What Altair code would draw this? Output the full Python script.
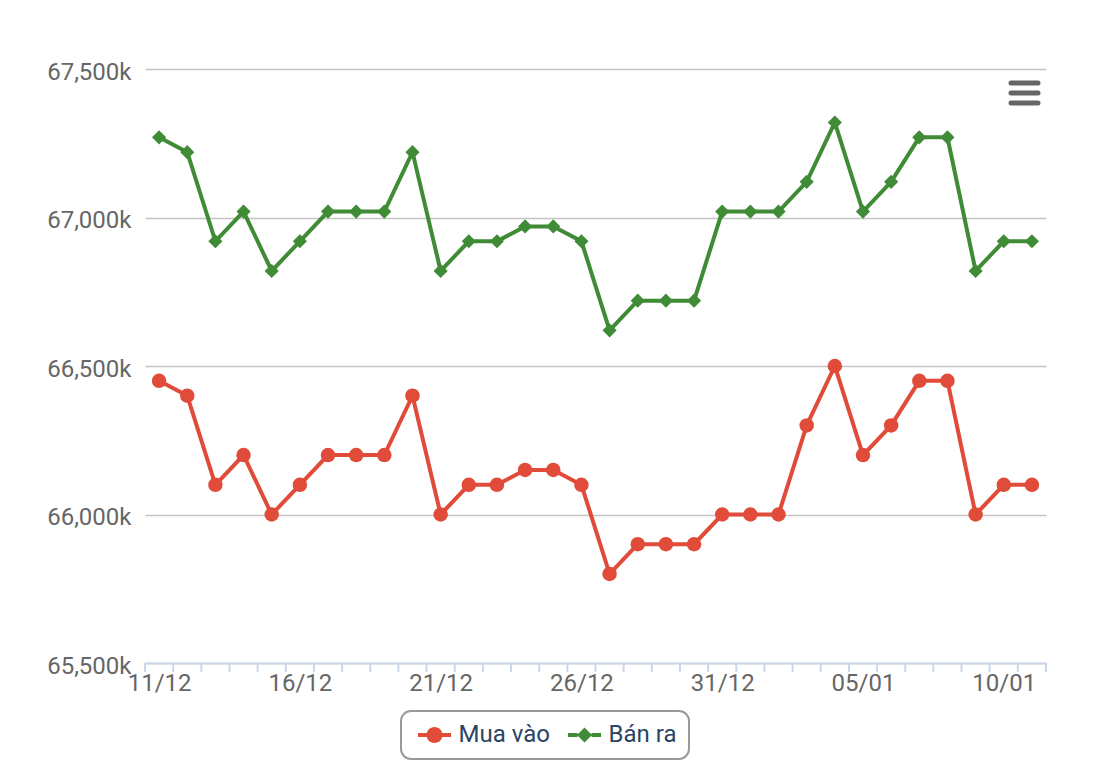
import altair as alt
import pandas as pd
import numpy as np

# ---- data ----
dates = ["11/12", "12/12", "13/12", "14/12", "15/12", "16/12", "17/12", "18/12",
         "19/12", "20/12", "21/12", "22/12", "23/12", "24/12", "25/12", "26/12",
         "27/12", "28/12", "29/12", "30/12", "31/12", "01/01", "02/01", "03/01",
         "04/01", "05/01", "06/01", "07/01", "08/01", "09/01", "10/01", "11/01"]
mua_vao = [66450, 66400, 66100, 66200, 66000, 66100, 66200, 66200,
           66200, 66400, 66000, 66100, 66100, 66150, 66150, 66100,
           65800, 65900, 65900, 65900, 66000, 66000, 66000, 66300,
           66500, 66200, 66300, 66450, 66450, 66000, 66100, 66100]
ban_ra = [67270, 67220, 66920, 67020, 66820, 66920, 67020, 67020,
          67020, 67220, 66820, 66920, 66920, 66970, 66970, 66920,
          66620, 66720, 66720, 66720, 67020, 67020, 67020, 67120,
          67320, 67020, 67120, 67270, 67270, 66820, 66920, 66920]
series_names = ["Mua vào", "Bán ra"]
series_colors = ["#e04b3a", "#3f8b36"]
series_shapes = ["circle", "diamond"]
y_ticks = [65500, 66000, 66500, 67000, 67500]
label_every = 5

n = len(dates)
rows = []
for name, vals in zip(series_names, [mua_vao, ban_ra]):
    for i, (d, v) in enumerate(zip(dates, vals)):
        rows.append({"i": i, "date": d, "series": name, "value": v})
df = pd.DataFrame(rows)

label_idx = list(range(0, n, label_every))
label_map = "{" + ",".join(f"'{i}':'{dates[i]}'" for i in label_idx) + "}"

W, H = 901, 594
FONT = "Roboto"

xscale = alt.Scale(domain=[-0.5, n - 0.5], nice=False, zero=False)
yscale = alt.Scale(domain=[y_ticks[0], y_ticks[-1]], nice=False, zero=False)

x_enc = alt.X("i:Q", scale=xscale,
              axis=alt.Axis(values=label_idx, labelExpr=f"{label_map}[''+datum.value]",
                            ticks=False, grid=False, domain=True, domainColor="#ccd6eb",
                            domainWidth=2, labelColor="#666666", labelFontSize=24,
                            labelFont=FONT, labelPadding=8, title=None))
y_enc = alt.Y("value:Q", scale=yscale,
              axis=alt.Axis(values=y_ticks, labelExpr="format(datum.value, ',') + 'k'",
                            ticks=False, domain=False, grid=True, gridColor="#c4c4c4",
                            gridWidth=1.5, labelColor="#666666", labelFontSize=24,
                            labelFont=FONT, labelPadding=14, labelOffset=3, title=None))

base = alt.Chart(df)

series_layers = []
for k, (name, col, shp) in enumerate(zip(series_names, series_colors, series_shapes)):
    sub = base.transform_filter(alt.datum.series == name)
    ln = sub.mark_line(strokeWidth=4, color=col).encode(
        x=x_enc if k == 0 else alt.X("i:Q"),
        y=y_enc if k == 0 else alt.Y("value:Q"))
    pt = sub.mark_point(filled=True, opacity=1, size=210 if shp == "circle" else 200,
                        shape=shp, color=col).encode(x="i:Q", y="value:Q")
    series_layers += [ln, pt]

# legend symbols: a short line with a marker in the middle (units of 10 px)
circle_path = ("M-1.65,-0.2 L-0.7,-0.2 L-0.7,0.2 L-1.65,0.2 Z "
               "M0.7,-0.2 L1.65,-0.2 L1.65,0.2 L0.7,0.2 Z "
               "M-0.8,0 A0.8,0.8 0 1,1 0.8,0 A0.8,0.8 0 1,1 -0.8,0 Z")
diamond_path = ("M-1.65,-0.2 L-0.7,-0.2 L-0.7,0.2 L-1.65,0.2 Z "
                "M0.7,-0.2 L1.65,-0.2 L1.65,0.2 L0.7,0.2 Z "
                "M-0.75,0 L0,-0.75 L0.75,0 L0,0.75 Z")

# legend-only layer (no marks drawn: its data is filtered out)
legend_layer = base.transform_filter("false").mark_point(filled=True, opacity=1).encode(
    x="i:Q", y="value:Q",
    fill=alt.Fill("series:N", scale=alt.Scale(domain=series_names, range=series_colors),
                  legend=alt.Legend(
                      title=None, orient="none", direction="horizontal",
                      legendX=256, legendY=642,
                      labelFont=FONT, labelFontSize=24, labelColor="#2b4564",
                      symbolSize=400, symbolStrokeWidth=0, symbolOpacity=1,
                      symbolOffset=9.5, labelOffset=12, columnPadding=13,
                      padding=12, strokeColor="#999999", cornerRadius=10,
                      fillColor="#ffffff")),
    shape=alt.Shape("series:N", scale=alt.Scale(domain=series_names,
                                                range=[circle_path, diamond_path])),
)

ticks_df = pd.DataFrame({"b": np.arange(n + 1) - 0.5})
tick_marks = alt.Chart(ticks_df).mark_rule(color="#ccd6eb", strokeWidth=2).encode(
    x=alt.X("b:Q", scale=xscale),
    y=alt.value(H), y2=alt.value(H + 9),
)

one = alt.Data(values=[{"k": 0}])
menu = [alt.Chart(one).mark_rule(color="#666666", strokeWidth=5, strokeCap="round").encode(
    x=alt.value(866), x2=alt.value(893), y=alt.value(yy), y2=alt.value(yy))
    for yy in (14, 24, 34)]

chart = alt.layer(tick_marks, *series_layers, legend_layer, *menu).properties(
    width=W, height=H,
    padding={"left": 145, "top": 69, "right": 54, "bottom": 119},
    autosize=alt.AutoSizeParams(type="none"),
).configure(font=FONT).configure_view(stroke=None).configure_legend(strokeWidth=2)

chart.save("out.html", embed_options={"renderer": "svg", "actions": False})
